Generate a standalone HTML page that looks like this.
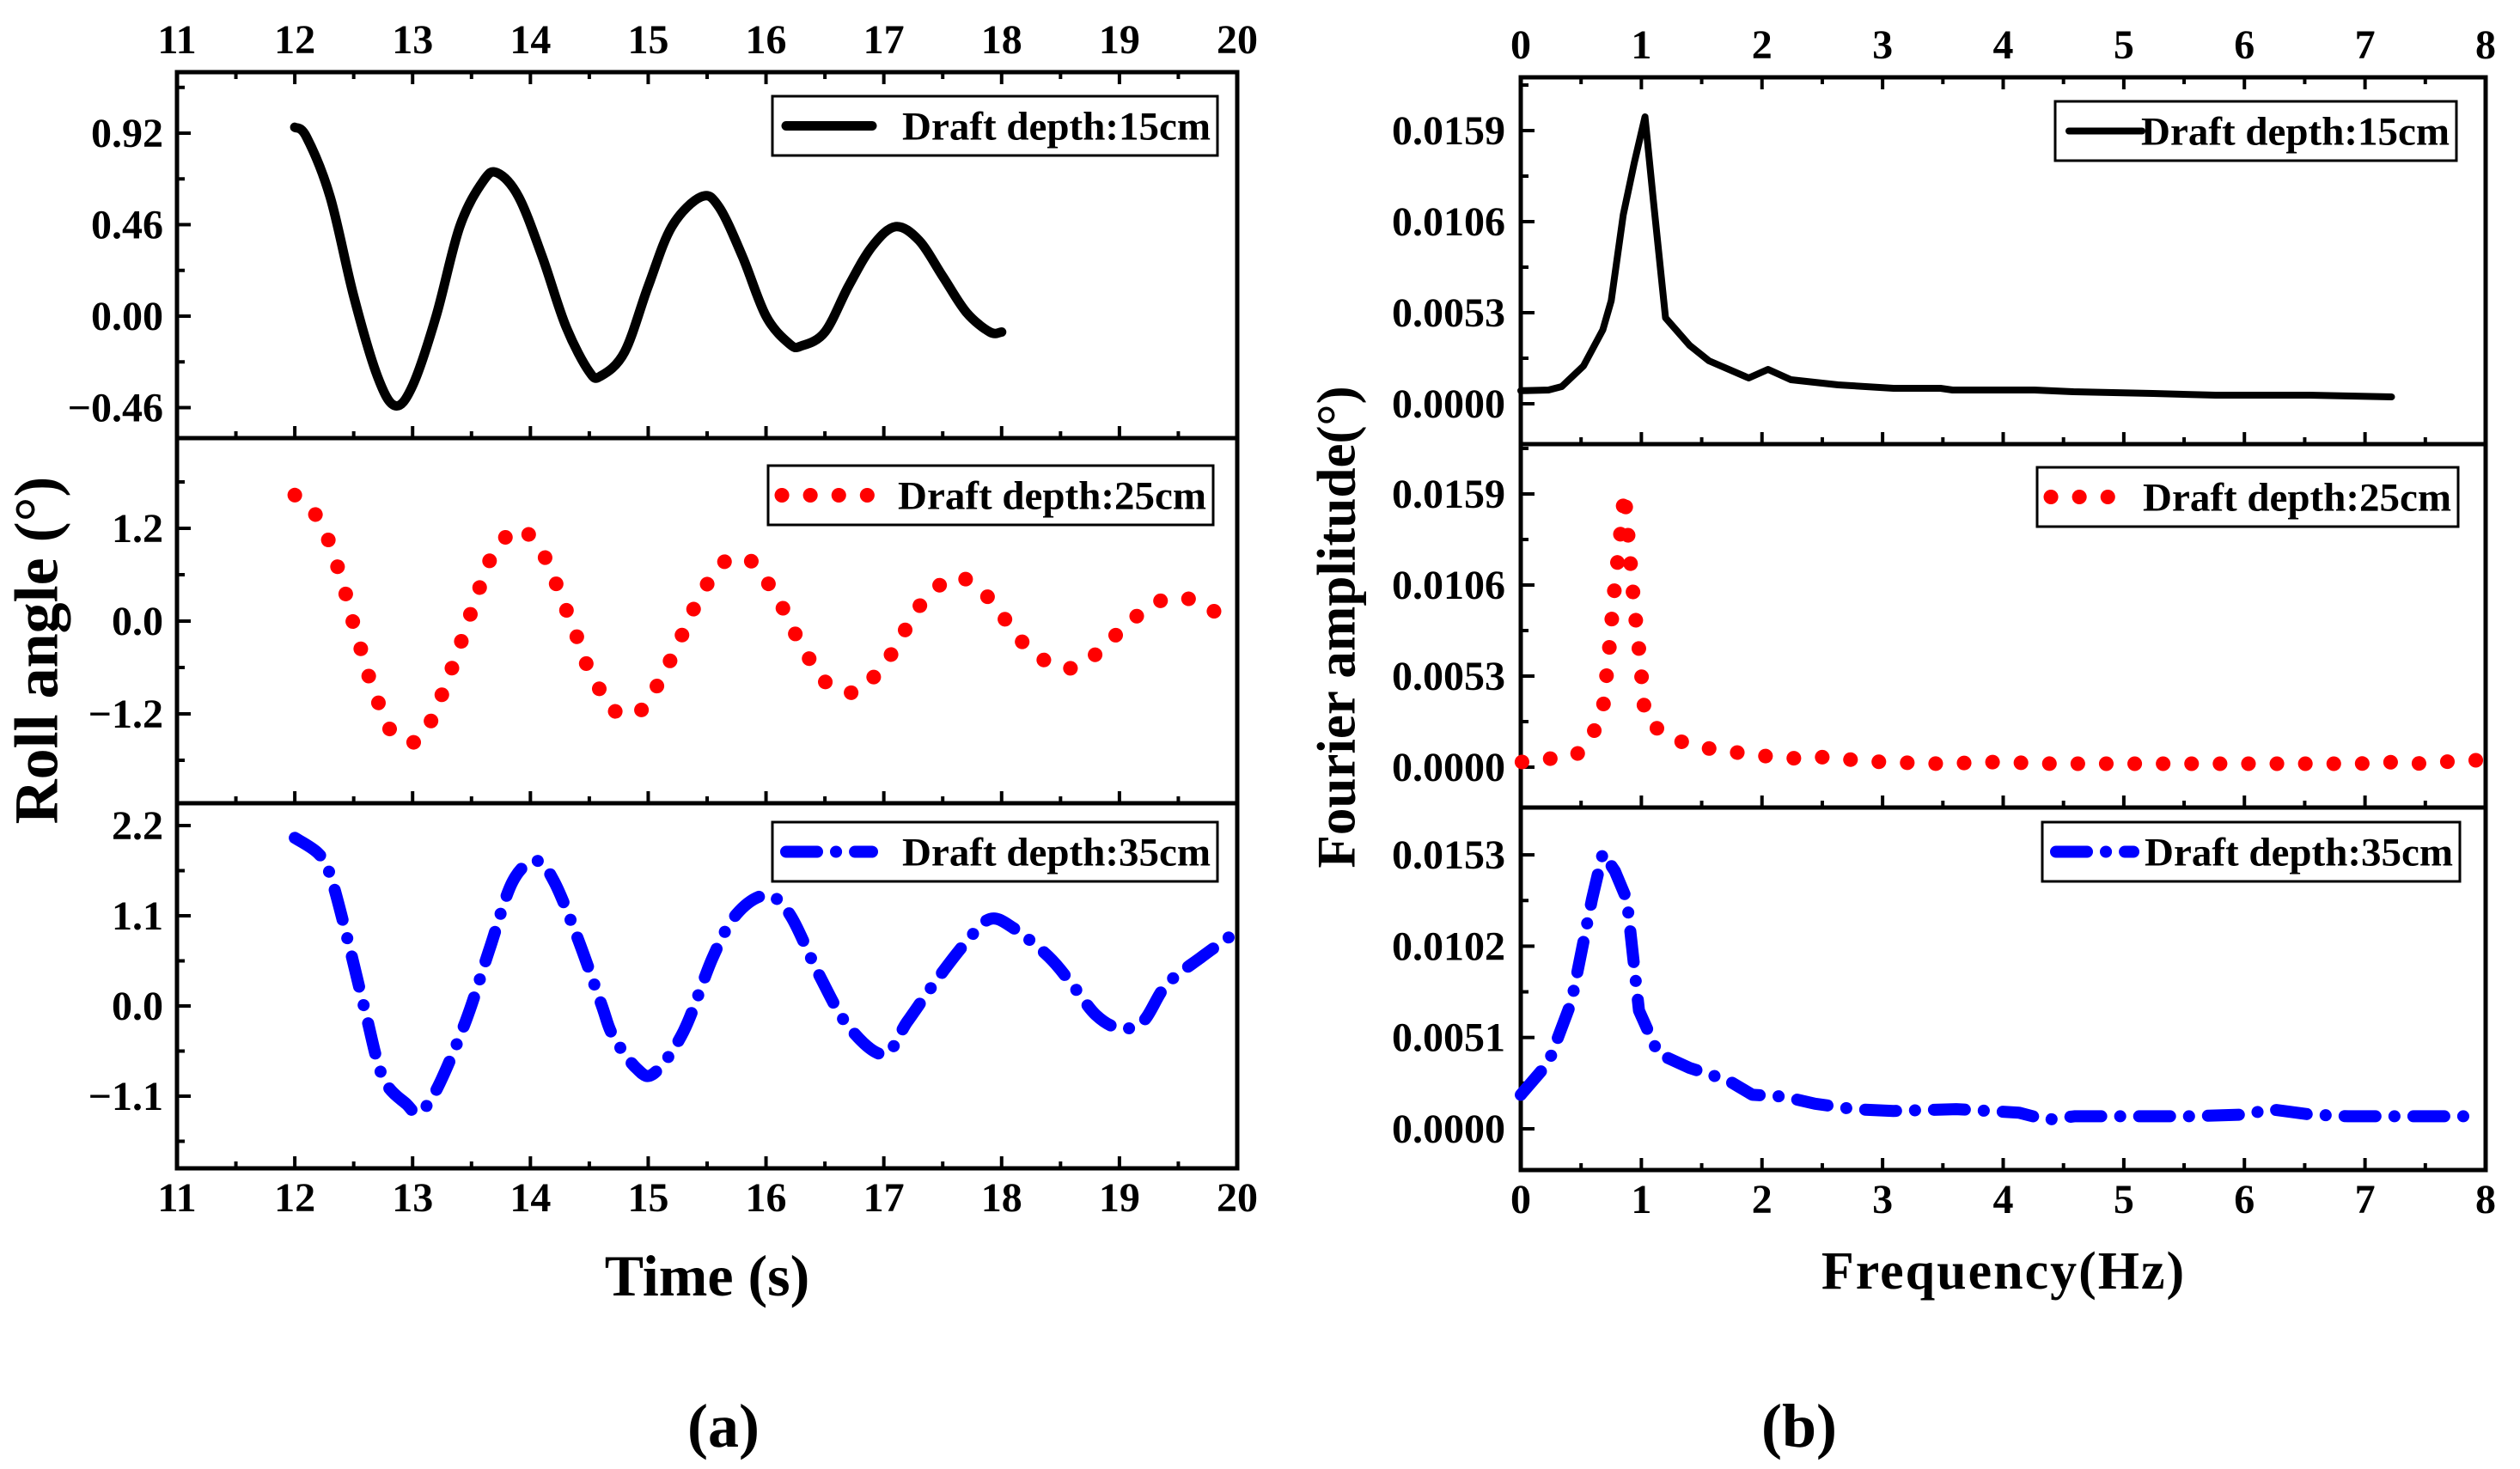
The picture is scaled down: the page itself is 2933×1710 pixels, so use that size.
<!DOCTYPE html>
<html><head><meta charset="utf-8"><style>
html,body{margin:0;padding:0;background:#fff;}
svg{display:block;font-family:"Liberation Serif",serif;font-weight:bold;}
</style></head><body>
<svg id="fig" width="2933" height="1710" viewBox="0 0 2933 1710" xmlns="http://www.w3.org/2000/svg">
<text x="50" y="757" font-size="72" text-anchor="middle" transform="rotate(-90 50 757)" dominant-baseline="middle">Roll angle (°)</text>
<text x="1562" y="730" font-size="63" text-anchor="middle" transform="rotate(-90 1562 730)" dominant-baseline="middle">Fourier amplitude(°)</text>
<text x="823" y="1508" font-size="68" text-anchor="middle">Time (s)</text>
<text x="2332" y="1500" font-size="62" text-anchor="middle" letter-spacing="2">Frequency(Hz)</text>
<text x="842" y="1684" font-size="72" text-anchor="middle">(a)</text>
<text x="2094" y="1684" font-size="72" text-anchor="middle">(b)</text>
</svg>
<script>
// ---- data: time-domain roll angle ----
const t15 = [12,12.1,12.3,12.5,12.7,12.85,13.0,13.2,13.4,13.6,13.72,13.9,14.1,14.3,14.5,14.6,14.8,15.0,15.2,15.45,15.6,15.8,16.0,16.2,16.3,16.5,16.7,16.9,17.1,17.3,17.5,17.7,17.9,18.0];
const roll15 = [0.95,0.9,0.6,0.1,-0.3,-0.45,-0.35,0.0,0.45,0.68,0.72,0.6,0.3,-0.05,-0.28,-0.3,-0.18,0.15,0.45,0.6,0.55,0.3,0.0,-0.14,-0.15,-0.08,0.15,0.35,0.45,0.38,0.2,0.02,-0.08,-0.08];
const t25 = [12.0,12.17,12.29,12.37,12.44,12.5,12.57,12.64,12.73,12.83,13.03,13.18,13.27,13.36,13.44,13.52,13.6,13.7,13.9,14.09,14.2,14.29,14.38,14.46,14.57,14.68,14.9,15.07,15.19,15.29,15.39,15.51,15.67,15.87,16.03,16.16,16.27,16.39,16.53,16.76,16.95,17.1,17.22,17.36,17.58,17.78,17.95,18.1,18.26,18.52,18.72,18.9,19.09,19.31,19.55,19.76,19.96];
const roll25 = [1.63,1.39,1.03,0.67,0.31,-0.05,-0.41,-0.77,-1.13,-1.44,-1.56,-1.22,-0.86,-0.5,-0.14,0.22,0.56,0.91,1.2,0.91,0.55,0.2,-0.14,-0.5,-0.83,-1.13,-1.2,-0.85,-0.5,-0.17,0.17,0.5,0.79,0.78,0.46,0.12,-0.23,-0.54,-0.82,-0.92,-0.66,-0.34,-0.01,0.3,0.56,0.47,0.18,-0.12,-0.4,-0.61,-0.52,-0.28,-0.01,0.24,0.3,0.16,0.0];
const t35 = [12.0,12.2,12.3,12.45,12.6,12.75,12.95,13.05,13.2,13.45,13.65,13.85,14.05,14.2,14.4,14.6,14.7,14.9,15.05,15.3,15.55,15.75,16.0,16.2,16.45,16.7,17.0,17.2,17.45,17.7,17.9,18.1,18.4,18.6,18.8,19.0,19.2,19.4,19.7,20.0];
const roll35 = [2.05,1.86,1.6,0.8,-0.08,-0.88,-1.2,-1.3,-1.03,-0.19,0.68,1.52,1.77,1.52,0.83,0.03,-0.36,-0.76,-0.82,-0.31,0.6,1.12,1.35,1.12,0.38,-0.25,-0.59,-0.19,0.32,0.78,1.06,0.95,0.6,0.26,-0.11,-0.27,-0.19,0.26,0.6,0.91];
// ---- data: spectra ----
const f15 = [0,0.23,0.34,0.52,0.68,0.75,0.85,0.94,1.03,1.1,1.2,1.4,1.56,1.89,2.05,2.24,2.63,3.09,3.48,3.58,4.26,4.58,5.24,5.76,6.54,7.22];
const amp15 = [0.00076,0.0008,0.001,0.0022,0.0043,0.006,0.011,0.014,0.0167,0.0118,0.005,0.0034,0.0025,0.0015,0.002,0.0014,0.0011,0.0009,0.0009,0.0008,0.0008,0.0007,0.0006,0.0005,0.0005,0.0004];
const f25 = [0.01,0.25,0.46,0.59,0.68,0.73,0.77,0.82,0.86,0.9,0.94,0.99,1.03,1.17,1.39,1.63,1.85,2.08,2.31,2.54,2.78,3.0,3.47,3.94,4.4,5.09,5.79,6.49,6.95,7.18,7.41,7.64,7.88,8.0];
const amp25 = [0.0003,0.0005,0.0007,0.0018,0.0033,0.0066,0.0099,0.0131,0.016,0.0127,0.0094,0.0062,0.0029,0.002,0.0013,0.001,0.0008,0.0006,0.0005,0.0006,0.0004,0.0003,0.0002,0.0003,0.0002,0.0002,0.0002,0.0002,0.0002,0.0003,0.0002,0.0003,0.0004,0.0004];
const f35 = [0,0.23,0.42,0.59,0.68,0.78,0.88,0.98,1.14,1.4,1.72,1.92,2.18,2.44,2.76,3.09,3.61,4.13,4.36,4.59,5.1,5.56,6.02,6.21,6.54,6.86,7.51,7.97];
const amp35 = [0.0019,0.0037,0.0071,0.0128,0.0154,0.0144,0.0128,0.0066,0.0042,0.0034,0.0027,0.0019,0.0018,0.0014,0.0011,0.001,0.0011,0.0009,0.0005,0.0007,0.0007,0.0007,0.0008,0.0011,0.0008,0.0007,0.0007,0.0007];
// ---- tick labels ----
const timeTicks = [11,12,13,14,15,16,17,18,19,20];
const freqTicks = [0,1,2,3,4,5,6,7,8];
const rollTicks15 = [-0.46,0.00,0.46,0.92];
const rollTicks25 = [-1.2,0.0,1.2];
const rollTicks35 = [-1.1,0.0,1.1,2.2];
const ampTicks15 = [0.0000,0.0053,0.0106,0.0159];
const ampTicks25 = [0.0000,0.0053,0.0106,0.0159];
const ampTicks35 = [0.0000,0.0051,0.0102,0.0153];

const NS="http://www.w3.org/2000/svg";
const svg=document.getElementById('fig');
function mk(tag,attrs,parent){const e=document.createElementNS(NS,tag);for(const k in attrs)e.setAttribute(k,attrs[k]);(parent||svg).appendChild(e);return e;}

const xTime=v=>206+(v-11)*(1440-206)/9;
const xFreq=v=>1770+v*(2893-1770)/8;
function yLin(zeroPx,valStep,pxStep){return v=>zeroPx - v/valStep*pxStep;}
const yR15=yLin(368,0.46,106.5), yR25=yLin(723,1.2,108), yR35=yLin(1171,1.1,105);
const yA15=yLin(470,0.0053,106), yA25=yLin(893,0.0053,106), yA35=yLin(1314,0.0051,106.3);

const TF=48;
function frame(x0,x1,ys,xf,ticks,minorStep,yfs,yticksArr,fmt,lblX,name){
  const g=mk('g',{});
  
  
  mk('rect',{x:x0,y:ys[0],width:x1-x0,height:ys[3]-ys[0],fill:'none',stroke:'#000','stroke-width':5},g);
  for(let i=1;i<3;i++) mk('line',{x1:x0,x2:x1,y1:ys[i],y2:ys[i],stroke:'#000','stroke-width':5},g);
  const lo=ticks[0],hi=ticks[ticks.length-1];
  for(let v=lo;v<=hi+1e-9;v+=minorStep){
    const major=Math.abs(v-Math.round(v))<1e-6;
    const L=major?14:8, x=xf(v);
    mk('line',{x1:x,x2:x,y1:ys[0],y2:ys[0]+L,stroke:'#000','stroke-width':4},g);
    for(let i=1;i<4;i++) mk('line',{x1:x,x2:x,y1:ys[i],y2:ys[i]-L,stroke:'#000','stroke-width':4},g);
  }
  ticks.forEach(v=>{
    const t1=mk('text',{x:xf(v),y:ys[0]-22,'font-size':TF,'text-anchor':'middle'},g);t1.textContent=String(v);
    
    
    const t2=mk('text',{x:xf(v),y:ys[3]+50,'font-size':TF,'text-anchor':'middle'},g);t2.textContent=String(v);
    
    
  });
  for(let p=0;p<3;p++){
    const yf=yfs[p], arr=yticksArr[p], step=arr[1]-arr[0];
    for(let k=-4;k<=12;k++){
      const v=arr[0]+k*step/2, y=yf(v);
      if(y<ys[p]+4||y>ys[p+1]-4) continue;
      const major=k%2===0;
      mk('line',{x1:x0,x2:x0+(major?16:9),y1:y,y2:y,stroke:'#000','stroke-width':4},g);
    }
    arr.forEach(v=>{
      const t=mk('text',{x:lblX,y:yf(v)+16,'font-size':TF,'text-anchor':'end'},g);
      t.textContent=fmt(v,p);
      
      
    });
  }
}
frame(206,1440,[84,510,935,1360],xTime,timeTicks,0.5,[yR15,yR25,yR35],[rollTicks15,rollTicks25,rollTicks35],
  (v,p)=>{const d=p===0?2:1;let s=Math.abs(v).toFixed(d);return (v<0?'\u2212':'')+s;},190,'time-axes');
frame(1770,2893,[90,517,940,1362],xFreq,freqTicks,0.5,[yA15,yA25,yA35],[ampTicks15,ampTicks25,ampTicks35],
  (v)=>v.toFixed(4),1752,'frequency-axes');

function pathD(P,smooth){
  if(!smooth) return 'M'+P.map(p=>p[0].toFixed(1)+','+p[1].toFixed(1)).join(' L');
  let d='M'+P[0][0].toFixed(1)+','+P[0][1].toFixed(1);
  for(let i=0;i<P.length-1;i++){
    const p0=P[Math.max(0,i-1)],p1=P[i],p2=P[i+1],p3=P[Math.min(P.length-1,i+2)];
    const c1=[p1[0]+(p2[0]-p0[0])/6,p1[1]+(p2[1]-p0[1])/6];
    const c2=[p2[0]-(p3[0]-p1[0])/6,p2[1]-(p3[1]-p1[1])/6];
    d+=' C'+c1[0].toFixed(1)+','+c1[1].toFixed(1)+' '+c2[0].toFixed(1)+','+c2[1].toFixed(1)+' '+p2[0].toFixed(1)+','+p2[1].toFixed(1);
  }
  return d;
}
function series(xs,ys,xf,yf,style,name,smooth){
  const P=xs.map((x,i)=>[xf(x),yf(ys[i])]);
  const p=mk('path',Object.assign({d:pathD(P,smooth),fill:'none','stroke-linejoin':'round'},style));
  
  
}
const black={stroke:'#000','stroke-width':11,'stroke-linecap':'round'};
const blackThin={stroke:'#000','stroke-width':8,'stroke-linecap':'round'};
const red={stroke:'#ff0000','stroke-width':17,'stroke-linecap':'round','stroke-dasharray':'0.1 33'};
const blue={stroke:'#0000ff','stroke-width':14,'stroke-linecap':'round','stroke-dasharray':'36 22 0.1 22'};
series(t15,roll15,xTime,yR15,black,'roll-series-15cm',true);
series(t25,roll25,xTime,yR25,red,'roll-series-25cm',true);
series(t35,roll35,xTime,yR35,blue,'roll-series-35cm',true);
series(f15,amp15,xFreq,yA15,blackThin,'spectrum-series-15cm',false);
series(f25,amp25,xFreq,yA25,red,'spectrum-series-25cm',false);
series(f35,amp35,xFreq,yA35,blue,'spectrum-series-35cm',false);

function legend(x,y,w,h,style,label,name,lineW){
  const g=mk('g',{});
  
  
  mk('rect',{x:x,y:y,width:w,height:h,fill:'#fff',stroke:'#000','stroke-width':3},g);
  mk('line',Object.assign({x1:x+16,x2:x+16+lineW,y1:y+h/2,y2:y+h/2},style),g);
  const t=mk('text',{x:x+w-8,y:y+h/2+16,'font-size':47,'text-anchor':'end'},g);
  t.textContent=label;
}
legend(899,112,518,69,black,'Draft depth:15cm','legend-15cm-a',100);
legend(894,542,518,69,red,'Draft depth:25cm','legend-25cm-a',100);
legend(899,957,518,69,blue,'Draft depth:35cm','legend-35cm-a',100);
legend(2392,118,467,69,blackThin,'Draft depth:15cm','legend-15cm-b',85);
legend(2371,544,490,69,red,'Draft depth:25cm','legend-25cm-b',90);
legend(2377,957,486,69,blue,'Draft depth:35cm','legend-35cm-b',90);
</script>
</body></html>
